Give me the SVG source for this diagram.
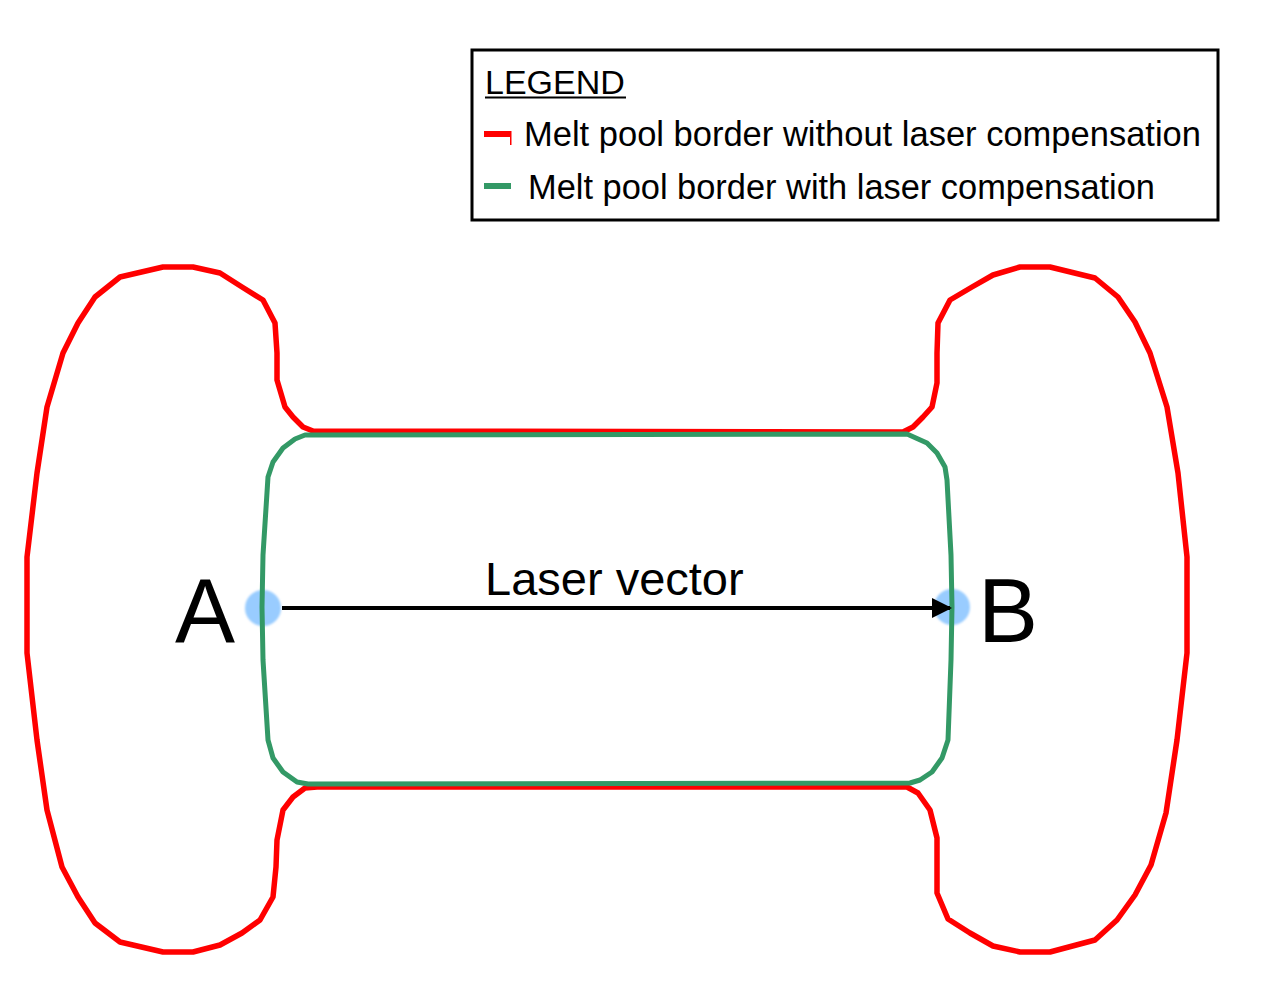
<svg xmlns="http://www.w3.org/2000/svg" width="1274" height="994" viewBox="0 0 1274 994">
<defs>
<style>
.txt{font-family:"Liberation Sans",Arial,sans-serif;fill:#000}
.red{fill:none;stroke:#ff0000;stroke-width:5.5;stroke-linejoin:round}
.green{fill:none;stroke:#339966;stroke-width:5;stroke-linejoin:round}
.pt{fill:#99ccff}
</style>
<marker id="arrow" markerWidth="20" markerHeight="20" refX="18" refY="10" orient="auto" markerUnits="userSpaceOnUse">
<path d="M0,0 L20,10 L0,20 Z" fill="#000"/>
</marker>
<filter id="soft" x="-20%" y="-20%" width="140%" height="140%"><feGaussianBlur stdDeviation="0.8"/></filter>
</defs>
<rect width="1274" height="994" fill="#fff"/>
<g id="legend">
<rect x="472" y="50" width="746" height="170" fill="#fff" stroke="#000" stroke-width="3"/>
<text class="txt" x="485" y="94" font-size="34">LEGEND</text>
<line x1="485" y1="97.5" x2="626" y2="97.5" stroke="#000" stroke-width="2"/>
<rect x="484" y="131" width="27" height="6" fill="#ff0000"/>
<rect x="510" y="131" width="1.5" height="14" fill="#ff0000"/>
<text class="txt" x="524" y="146" font-size="34.5">Melt pool border without laser compensation</text>
<rect x="484" y="183" width="27" height="6" fill="#339966"/>
<text class="txt" x="528" y="199" font-size="34.4">Melt pool border with laser compensation</text>
</g>
<g id="pointA">
<circle class="pt" cx="263" cy="608" r="18" filter="url(#soft)"/>
<text class="txt" x="175" y="642" font-size="90">A</text>
</g>
<g id="pointB">
<circle class="pt" cx="952" cy="607" r="18" filter="url(#soft)"/>
<text class="txt" x="978" y="642" font-size="90">B</text>
</g>
<g id="melt-pool-without">
<path class="red" d="M313,431 L903,432 L913,427 L923,417 L932,407 L937,383 L937,353 L938,323 L950,300 L972,287 L993,275 L1020,267 L1050,267 L1095,278 L1118,297 L1135,322 L1150,353 L1167,407 L1178,473 L1187,557 L1187,653 L1177,740 L1166,813 L1151,865 L1135,895 L1117,920 L1095,940 L1050,952 L1020,952 L993,946 L970,933 L948,919 L937,893 L937,865 L937,838 L930,810 L918,793 L907,787 L317,787 L305,788 L293,797 L283,810 L277,840 L276,867 L273,897 L260,920 L242,933 L220,945 L193,952 L163,952 L120,942 L95,923 L78,897 L62,867 L47,810 L37,740 L27,653 L27,557 L37,473 L47,407 L63,353 L78,323 L95,297 L120,277 L163,267 L193,267 L220,273 L242,287 L263,300 L275,323 L277,353 L277,380 L285,407 L293,417 L303,427 Z"/>
</g>
<g id="melt-pool-with">
<path class="green" d="M305,435 L907,434 L927,443 L937,453 L945,467 L947,480 L951,555 L952,607 L951,660 L948,740 L942,758 L932,772 L920,780 L910,783 L308,784 L297,782 L283,772 L273,758 L268,740 L263,660 L262,607 L263,555 L268,477 L273,462 L283,448 L295,439 Z"/>
</g>
<g id="connectors">
<line x1="282" y1="608" x2="950" y2="608" stroke="#000" stroke-width="4" marker-end="url(#arrow)"/>
<text class="txt" x="485" y="595" font-size="47">Laser vector</text>
</g>
</svg>
